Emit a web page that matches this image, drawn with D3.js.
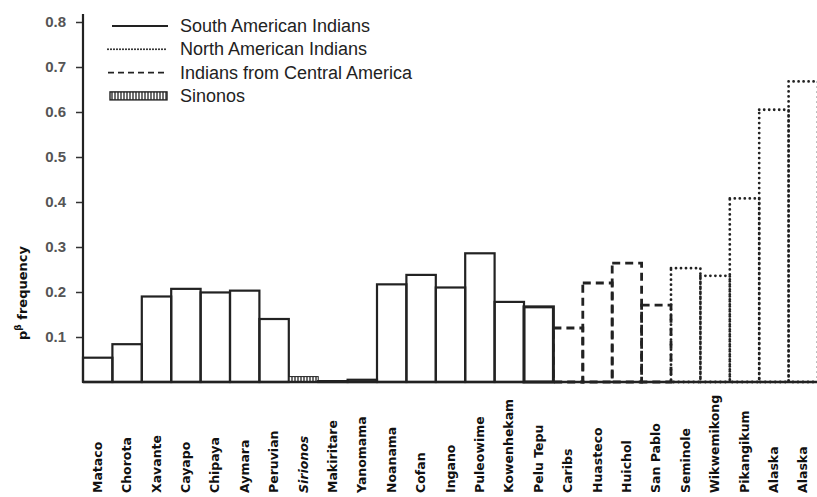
<!DOCTYPE html>
<html>
<head>
<meta charset="utf-8">
<script src="https://cdn.jsdelivr.net/npm/d3@7"></script>
<style>
  body { margin: 0; background: #fff; }
  svg { display: block; }
</style>
</head>
<body>
<svg id="drawing_region"></svg>
<script>
// populations, in the order they stand along the x axis
const populations = ["Mataco", "Chorota", "Xavante", "Cayapo", "Chipaya", "Aymara", "Peruvian",
  "Sirionos", "Makiritare", "Yanomama", "Noanama", "Cofan", "Ingano", "Puleowime", "Kowenhekam",
  "Pelu Tepu", "Caribs", "Huasteco", "Huichol", "San Pablo", "Seminole", "Wikwemikong",
  "Pikangikum", "Alaska", "Alaska"];
// p frequency
const frequencies = [0.054, 0.084, 0.19, 0.207, 0.199, 0.203, 0.14,
  0.012, 0.002, 0.005, 0.217, 0.238, 0.21, 0.286, 0.178,
  0.167, 0.12, 0.22, 0.264, 0.171, 0.253, 0.236,
  0.408, 0.605, 0.668];
// group of each population
const groups = ["south", "south", "south", "south", "south", "south", "south",
  "sirionos", "south", "south", "south", "south", "south", "south", "south",
  "south", "central", "central", "central", "central", "north", "north",
  "north", "north", "north"];
const yTicks = [0.1, 0.2, 0.3, 0.4, 0.5, 0.6, 0.7, 0.8];
const legendLabels = ["South American Indians", "North American Indians",
  "Indians from Central America", "Sinonos"];
const legendGroups = ["south", "north", "central", "sirionos"];

const width = 817, height = 497;
const margin = {top: 14, left: 83, baseline: 382};

const data = populations.map((p, i) => ({label: p, idx: i, value: frequencies[i], group: groups[i]}));

const svg = d3.select('#drawing_region')
    .attr('width', width)
    .attr('height', height);

const defs = svg.append('defs');
const pat = defs.append('pattern')
    .attr('id', 'hatch')
    .attr('patternUnits', 'userSpaceOnUse')
    .attr('width', 3).attr('height', 6);
pat.append('rect').attr('width', 3).attr('height', 6).attr('fill', '#fff');
pat.append('line').attr('x1', 1).attr('x2', 1).attr('y1', 0).attr('y2', 6)
    .attr('stroke', '#222').attr('stroke-width', 1.3);

const xscale = d3.scaleBand()
    .domain(data.map(d => d.idx))
    .range([margin.left, margin.left + 25 * 29.4])
    .padding(0);

const yscale = d3.scaleLinear()
    .domain([0, 0.8])
    .range([margin.baseline, 22]);

// line styles of the groups
const styles = {
  south:   {dash: null,  width: 2.2, cap: 'butt'},
  north:   {dash: '0 5', width: 2.8, cap: 'round'},
  central: {dash: '8 5', width: 2.8, cap: 'butt'},
  sirionos:{dash: null,  width: 1,   cap: 'butt'}
};

// y axis
const yaxis = d3.axisLeft(yscale)
    .tickValues(yTicks)
    .tickSize(7)
    .tickSizeOuter(0)
    .tickFormat(d3.format('.1f'));

const yg = svg.append('g')
    .attr('transform', `translate(${margin.left},0)`)
    .call(yaxis);
yg.select('.domain').remove();
yg.selectAll('.tick line').attr('stroke', '#333').attr('stroke-width', 1.5);
yg.selectAll('.tick text')
    .attr('x', -17)
    .attr('fill', '#555')
    .attr('font-family', 'Liberation Sans, Arial, sans-serif')
    .attr('font-weight', 'bold')
    .attr('font-size', 15);

svg.append('line')
    .attr('x1', margin.left).attr('x2', margin.left)
    .attr('y1', margin.top).attr('y2', margin.baseline)
    .attr('stroke', '#222').attr('stroke-width', 2.2);

// y label
svg.append('text')
    .attr('transform', `translate(27, 293) rotate(-90)`)
    .attr('text-anchor', 'middle')
    .attr('font-family', 'DejaVu Sans, sans-serif')
    .attr('font-weight', 'bold')
    .attr('font-size', 13)
    .attr('fill', '#111')
    .call(t => {
      t.append('tspan').text('p');
      t.append('tspan').attr('dy', -6).attr('font-size', 9).text('β');
      t.append('tspan').attr('dy', 6).text(' frequency');
    });

// bars
svg.append('g').selectAll('rect').data(data).enter()
    .append('rect')
    .attr('x', d => xscale(d.idx))
    .attr('y', d => yscale(d.value))
    .attr('width', xscale.bandwidth())
    .attr('height', d => yscale(0) - yscale(d.value))
    .attr('fill', d => d.group === 'sirionos' ? 'url(#hatch)' : 'none')
    .attr('stroke', '#222')
    .attr('stroke-width', d => d.label === 'Pelu Tepu' ? 3 : styles[d.group].width)
    .attr('stroke-dasharray', d => styles[d.group].dash)
    .attr('stroke-linecap', d => styles[d.group].cap);

// baseline
svg.append('line')
    .attr('x1', margin.left).attr('x2', width)
    .attr('y1', margin.baseline).attr('y2', margin.baseline)
    .attr('stroke', '#222').attr('stroke-width', 2.4);

// x labels
svg.append('g').selectAll('text').data(data).enter()
    .append('text')
    .attr('transform', d => `translate(${xscale(d.idx) + xscale.bandwidth() / 2 + 4}, 493) rotate(-90)`)
    .attr('text-anchor', 'start')
    .attr('font-family', 'DejaVu Sans, sans-serif')
    .attr('font-weight', 'bold')
    .attr('font-style', d => d.group === 'sirionos' ? 'italic' : 'normal')
    .attr('font-size', 12.5)
    .attr('fill', '#111')
    .text(d => d.label);

// legend
const legend = svg.append('g');
legendGroups.forEach((g, i) => {
  const y = 26 + i * 23.3;
  if (g === 'sirionos') {
    legend.append('rect')
        .attr('x', 110).attr('y', y - 4).attr('width', 57).attr('height', 8)
        .attr('fill', 'url(#hatch)').attr('stroke', '#222').attr('stroke-width', 1.4);
  } else {
    legend.append('line')
        .attr('x1', g === 'south' ? 112 : 108).attr('x2', 168)
        .attr('y1', y).attr('y2', y)
        .attr('stroke', '#222')
        .attr('stroke-width', g === 'north' ? 2 : 1.8)
        .attr('stroke-dasharray', g === 'north' ? '0 3' : (g === 'central' ? '6 4' : null))
        .attr('stroke-linecap', styles[g].cap);
  }
  legend.append('text')
      .attr('x', 180).attr('y', y + 6)
      .attr('font-family', 'Liberation Sans, Arial, sans-serif')
      .attr('font-size', 18)
      .attr('fill', '#222')
      .text(legendLabels[i]);
});
</script>
</body>
</html>
